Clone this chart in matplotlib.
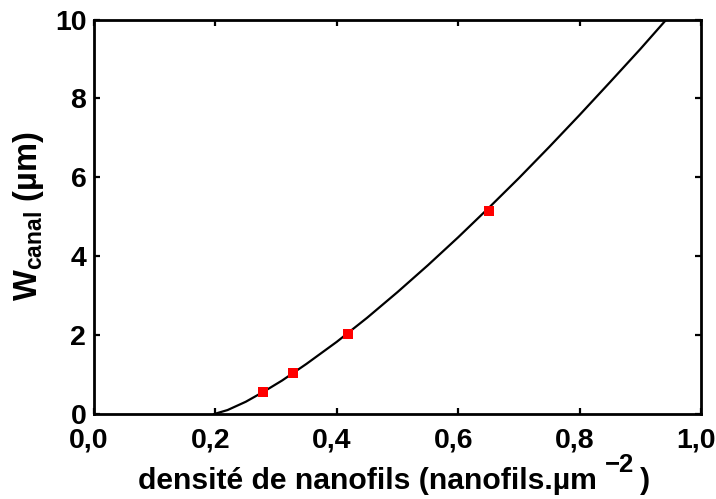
#!/usr/bin/env python

import matplotlib
matplotlib.use('Agg')
import matplotlib.pyplot as plt
from matplotlib.transforms import ScaledTranslation

# measured points (red squares)
dens_pts = [0.279, 0.328, 0.419, 0.650]
w_pts = [0.56, 1.05, 2.03, 5.15]

# fitted curve
dens_fit = [0.198, 0.22, 0.25, 0.28, 0.31, 0.35, 0.40, 0.45, 0.50, 0.55,
            0.60, 0.65, 0.70, 0.75, 0.80, 0.85, 0.90, 0.943]
w_fit = [0.0, 0.10, 0.31, 0.57, 0.85, 1.27, 1.83, 2.44, 3.09, 3.77,
         4.48, 5.22, 5.98, 6.77, 7.58, 8.41, 9.25, 10.0]

xticks = [0.0, 0.2, 0.4, 0.6, 0.8, 1.0]
xticklabels = ['0,0', '0,2', '0,4', '0,6', '0,8', '1,0']
yticks = [0, 2, 4, 6, 8, 10]
yticklabels = ['0', '2', '4', '6', '8', '10']

plt.rcParams['font.family'] = ['Liberation Sans', 'DejaVu Sans']
plt.rcParams['font.weight'] = 'bold'
plt.rcParams['mathtext.fontset'] = 'custom'
plt.rcParams['mathtext.rm'] = 'Liberation Sans:bold'
plt.rcParams['mathtext.bf'] = 'Liberation Sans:bold'
plt.rcParams['mathtext.it'] = 'Liberation Sans:bold'

W, H = 716, 499
fig = plt.figure(figsize=(W / 100, H / 100), dpi=100)
ax = fig.add_axes([94 / W, 1 - 414 / H, 607 / W, 394.5 / H])

ax.plot(dens_fit, w_fit, color='black', lw=1.6, zorder=2)
ax.plot(dens_pts, w_pts, ls='none', marker='s', ms=7, color='red',
        markeredgewidth=0, zorder=3)

ax.set_xlim(0, 1.0)
ax.set_ylim(0, 10)
ax.set_xticks(xticks)
ax.set_xticklabels(xticklabels)
ax.set_yticks(yticks)
ax.set_yticklabels(yticklabels)

ax.tick_params(direction='in', length=4, width=1.6, labelsize=20.5,
               top=True, right=True)
ax.tick_params(axis='x', pad=9.5)
ax.tick_params(axis='y', pad=5.5)
for sp in ax.spines.values():
    sp.set_linewidth(2)

# tick labels sit a little left of their ticks in the original
shift = ScaledTranslation(-0.05, 0, fig.dpi_scale_trans)
for lab in ax.get_xticklabels():
    lab.set_transform(lab.get_transform() + shift)

ax.set_ylabel('W$_{\\mathrm{canal}}$ (µm)', fontsize=23.5, fontweight='bold')
ax.yaxis.set_label_coords((46 - 94) / 607, 0.5)

# x label in three pieces: the exponent is raised well above the text
fig.canvas.draw()
r = fig.canvas.get_renderer()
base = 1 - 489 / H
t1 = fig.text(138 / W, base, 'densité de nanofils (nanofils.µm',
              fontsize=21.7, fontweight='bold', va='baseline', ha='left')
x1 = t1.get_window_extent(r).x1
t2 = fig.text((x1 + 8) / W, 1 - 472 / H, '−2', fontsize=18.5,
              fontweight='bold', va='baseline', ha='left')
x2 = t2.get_window_extent(r).x1
fig.text((x2 + 6) / W, base, ')', fontsize=21.7, fontweight='bold',
         va='baseline', ha='left')

fig.savefig('out.png', dpi=100)
